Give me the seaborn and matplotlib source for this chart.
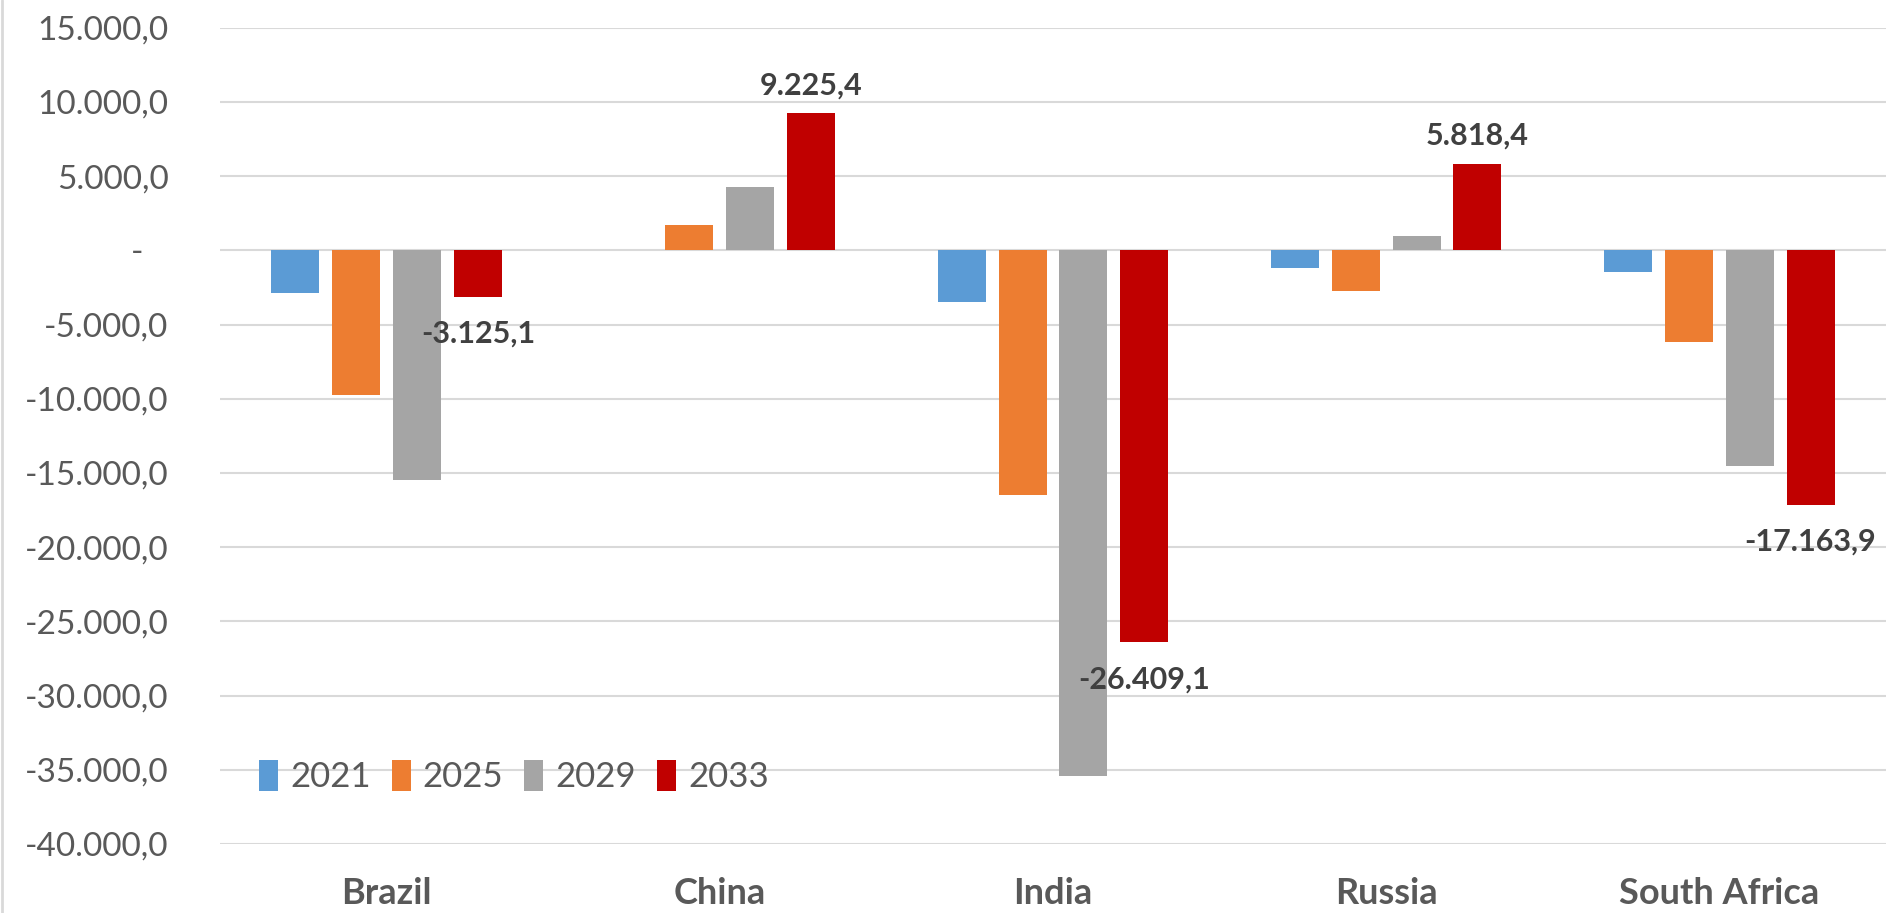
import numpy as np
import pandas as pd
import matplotlib
matplotlib.use("Agg")
import matplotlib.pyplot as plt
from matplotlib.lines import Line2D
from matplotlib.patches import Patch
import seaborn as sns

countries = ["Brazil", "China", "India", "Russia", "South Africa"]
years = ["2021", "2025", "2029", "2033"]
v2021 = [-2900, np.nan, -3490, -1210, -1450]
v2025 = [-9760, 1680, -16460, -2740, -6190]
v2029 = [-15480, 4240, -35420, 940, -14500]
v2033 = [-3125.1, 9225.4, -26409.1, 5818.4, -17163.9]
colors = ["#5B9BD5", "#ED7D31", "#A5A5A5", "#C00000"]
yticks = list(range(-40000, 15001, 5000))


def fmt(v):
    if v == 0:
        return "-   "
    s = f"{v:,.1f}"
    return s.replace(",", "X").replace(".", ",").replace("X", ".")


rows = []
for yr, vals in zip(years, [v2021, v2025, v2029, v2033]):
    for c, v in zip(countries, vals):
        rows.append({"country": c, "year": yr, "value": v})
df = pd.DataFrame(rows)

sns.set_style("white")
plt.rcParams["font.family"] = ["Lato", "DejaVu Sans"]

fig = plt.figure(figsize=(18.86, 9.13), dpi=100)
ax = fig.add_axes([220 / 1886, 69 / 913, 1666 / 1886, 816.3 / 913])

sns.barplot(data=df, x="country", y="value", hue="year", hue_order=years,
            palette=colors, width=0.73, gap=0.21, ax=ax, saturation=1,
            errorbar=None, legend=False, linewidth=0)

ax.set_ylim(-40000, 15000)
ax.set_yticks(yticks)
ax.set_yticklabels([fmt(t) for t in yticks])
ax.set_xlim(-0.5, 4.5)
ax.grid(axis="y", color="#d9d9d9", linewidth=1.5)
ax.set_axisbelow(True)
for s in ax.spines.values():
    s.set_visible(False)
ax.tick_params(axis="y", length=0, pad=37, labelsize=24, labelcolor="#595959")
ax.tick_params(axis="x", length=0, pad=24, labelsize=26, labelcolor="#595959")
for lab in ax.get_xticklabels():
    lab.set_fontweight("bold")
ax.set_xlabel("")
ax.set_ylabel("")

# data labels for the last series only
for bar, v in zip(ax.containers[3], v2033):
    x = bar.get_x() + bar.get_width() / 2
    off = 28 if v >= 0 else -37
    ax.annotate(fmt(v), (x, v), xytext=(0, off), textcoords="offset pixels",
                ha="center", va="center", fontsize=22, fontweight="bold",
                color="#404040", annotation_clip=False)

handles = [Patch(facecolor=c, edgecolor="none") for c in colors]
ax.legend(handles, years, ncol=4, frameon=False, loc="center left",
          bbox_to_anchor=(0.015, 0.083), fontsize=25, labelcolor="#595959",
          handlelength=0.55, handleheight=1.0, handletextpad=0.35,
          columnspacing=0.6, borderaxespad=0)

fig.add_artist(Line2D([0.0012, 0.0012], [0, 1], color="#d9d9d9", linewidth=2,
                      transform=fig.transFigure))

fig.savefig("out.png", dpi=100)
